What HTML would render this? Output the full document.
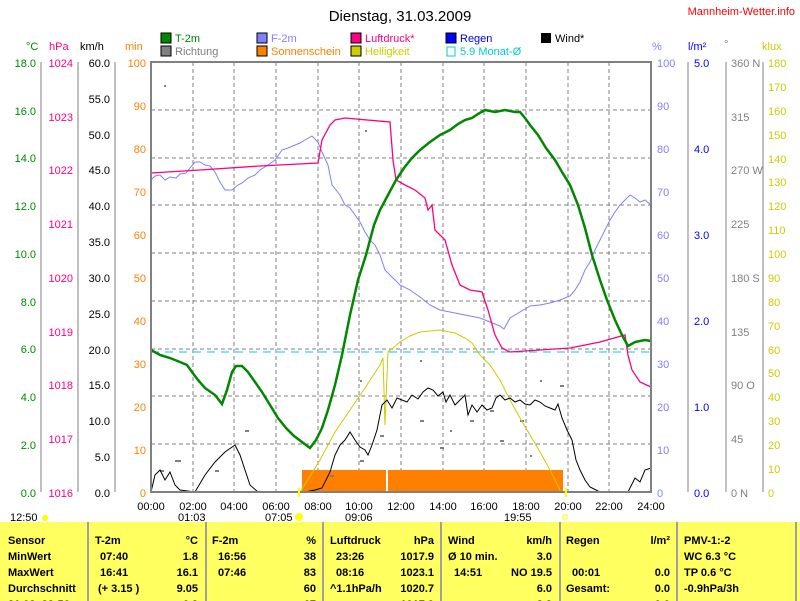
<!DOCTYPE html>
<html><head><meta charset="utf-8"><style>
body{margin:0;background:#fff;width:800px;height:601px;overflow:hidden;font-family:"Liberation Sans",sans-serif}
svg text{font-family:"Liberation Sans",sans-serif;font-size:11px}
.tb{position:absolute;left:0;top:522px;width:800px;height:79px;background:#ffff60;font:bold 12px "Liberation Sans",sans-serif}
</style></head><body>
<svg width="800" height="601" style="position:absolute;left:0;top:0">
<text x="400" y="21" text-anchor="middle" style="font-size:15px">Dienstag, 31.03.2009</text>
<text x="795" y="15" text-anchor="end" fill="#f00" style="font-size:11px">Mannheim-Wetter.info</text>
<g style="font-size:11px">
<rect x="161" y="33" width="10" height="10" fill="#080" stroke="#000"/><text x="175" y="42" fill="#080">T-2m</text>
<rect x="161" y="46" width="10" height="10" fill="#808080" stroke="#000"/><text x="175" y="55" fill="#808080">Richtung</text>
<rect x="257" y="33" width="10" height="10" fill="#8080ff" stroke="#000"/><text x="271" y="42" fill="#8080ff">F-2m</text>
<rect x="257" y="46" width="10" height="10" fill="#ff8000" stroke="#000"/><text x="271" y="55" fill="#ff8000">Sonnenschein</text>
<rect x="351" y="33" width="10" height="10" fill="#ff0080" stroke="#000"/><text x="365" y="42" fill="#ff0080">Luftdruck*</text>
<rect x="351" y="46" width="10" height="10" fill="#cc0" stroke="#000"/><text x="365" y="55" fill="#cc0">Helligkeit</text>
<rect x="446" y="33" width="10" height="10" fill="#00f" stroke="#000"/><text x="460" y="42" fill="#00f">Regen</text>
<rect x="447" y="47" width="8" height="9" fill="none" stroke="#0cc"/><text x="460" y="55" fill="#0cc">5.9 Monat-Ø</text>
<rect x="541" y="33" width="10" height="10" fill="#000"/><text x="555" y="42">Wind*</text>
</g>
<g style="font-size:11px">
<text x="26" y="50" fill="#080">°C</text><text x="49" y="50" fill="#ff0080">hPa</text><text x="80" y="50">km/h</text><text x="125" y="50" fill="#ff8000">min</text>
<text x="652" y="50" fill="#8080ff">%</text><text x="688" y="50" fill="#00f">l/m²</text><text x="724" y="48" fill="#808080">°</text><text x="762" y="50" fill="#cc0">klux</text>
</g>
<g stroke="#808080" stroke-dasharray="4,3" stroke-width="1">
<line x1="151" y1="110" x2="651" y2="110"/><line x1="151" y1="158" x2="651" y2="158"/><line x1="151" y1="205" x2="651" y2="205"/><line x1="151" y1="253" x2="651" y2="253"/><line x1="151" y1="301" x2="651" y2="301"/><line x1="151" y1="349" x2="651" y2="349"/><line x1="151" y1="396" x2="651" y2="396"/><line x1="151" y1="444" x2="651" y2="444"/>
<line x1="193" y1="62" x2="193" y2="492"/><line x1="234" y1="62" x2="234" y2="492"/><line x1="276" y1="62" x2="276" y2="492"/><line x1="318" y1="62" x2="318" y2="492"/><line x1="359" y1="62" x2="359" y2="492"/><line x1="401" y1="62" x2="401" y2="492"/><line x1="443" y1="62" x2="443" y2="492"/><line x1="484" y1="62" x2="484" y2="492"/><line x1="526" y1="62" x2="526" y2="492"/><line x1="568" y1="62" x2="568" y2="492"/><line x1="609" y1="62" x2="609" y2="492"/>
</g>
<line x1="151" y1="352" x2="651" y2="352" stroke="#0cc" stroke-dasharray="8,6"/>
<rect x="302" y="470" width="84" height="21" fill="#ff8000"/><rect x="388" y="470" width="175" height="21" fill="#ff8000"/>
<g fill="#808080">
<rect x="164" y="85" width="2" height="2"/><rect x="160" y="470" width="4" height="2"/><rect x="175" y="460" width="6" height="2"/><rect x="215" y="470" width="4" height="2"/><rect x="245" y="430" width="4" height="2"/><rect x="330" y="475" width="4" height="2"/><rect x="360" y="460" width="4" height="2"/><rect x="360" y="380" width="2" height="2"/><rect x="420" y="420" width="4" height="2"/><rect x="450" y="430" width="2" height="2"/><rect x="470" y="420" width="4" height="2"/><rect x="500" y="440" width="4" height="2"/><rect x="520" y="420" width="4" height="2"/><rect x="540" y="380" width="2" height="2"/><rect x="560" y="385" width="4" height="2"/><rect x="365" y="130" width="2" height="2"/><rect x="420" y="360" width="2" height="2"/><rect x="490" y="410" width="4" height="2"/><rect x="440" y="447" width="4" height="2"/><rect x="380" y="435" width="4" height="2"/><rect x="530" y="455" width="2" height="2"/></g>
<polyline fill="none" stroke="#cc0" points="300,492 320,460 335,432 350,410 365,388 380,365 383,358 385,425 388,352 400,342 410,336 420,332 440,330 455,333 465,338 472,343 480,355 490,365 500,380 510,400 520,418 530,435 540,452 550,470 560,490"/>
<polyline fill="none" stroke="#000" points="151,492 155,475 160,470 165,480 170,472 175,485 180,490 195,492 205,475 215,462 225,452 235,445 240,455 245,470 250,485 258,492 305,492 315,490 322,488 330,472 335,455 340,445 345,440 350,432 355,440 360,447 365,450 368,455 372,445 377,430 382,405 387,400 392,408 397,398 402,400 407,402 412,395 418,399 423,392 428,388 433,390 438,396 443,392 446,402 450,395 455,405 460,400 465,395 468,415 472,405 477,412 482,405 487,410 492,408 496,398 500,395 505,400 510,398 515,402 520,400 525,404 530,405 535,400 540,402 545,406 550,408 555,410 558,404 562,418 567,430 572,440 576,460 580,470 585,480 590,487 600,492 628,492 635,478 640,482 645,470 651,468"/>
<polyline fill="none" stroke="#8080ff" points="151,180 155,176 160,175 165,180 170,177 176,178 180,174 186,173 190,168 195,162 200,162 205,165 210,166 215,172 220,182 225,190 232,190 238,185 242,183 248,178 255,175 260,170 268,165 275,160 282,150 288,148 295,145 300,143 305,140 312,136 318,142 322,152 328,165 332,185 340,195 345,205 350,208 355,215 360,222 365,232 370,240 375,245 380,255 385,270 390,275 395,280 400,285 410,290 420,297 430,305 440,310 450,312 460,314 470,316 480,318 490,322 500,326 504,329 510,318 520,312 530,306 540,305 550,303 560,300 570,296 575,290 580,282 585,270 590,262 595,250 600,240 605,230 610,220 615,212 620,205 625,200 630,195 635,198 640,202 645,200 651,205"/>
<polyline fill="none" stroke="#ff0080" stroke-width="1.3" points="151,173 200,170 260,166 318,163 322,140 330,125 335,120 345,118 390,122 393,160 396,180 405,185 415,190 425,198 428,210 432,205 435,230 445,240 452,265 460,285 470,290 482,292 488,310 495,335 502,348 510,352 540,350 570,348 600,342 625,335 628,355 632,370 640,382 651,387"/>
<polyline fill="none" stroke="#080" stroke-width="2.5" points="151,350 160,355 170,358 180,362 187,365 192,372 198,380 205,388 215,395 222,404 227,390 232,372 236,366 242,366 248,372 255,382 262,392 270,405 278,418 286,428 294,436 302,442 310,448 316,440 322,428 328,410 335,385 342,355 350,315 358,280 366,255 374,225 380,210 388,195 396,180 404,168 412,158 420,150 430,142 440,135 450,130 458,124 465,120 472,118 478,114 485,110 495,112 505,110 515,112 520,112 525,118 530,125 538,135 546,148 555,160 562,172 570,185 578,205 585,228 592,255 600,280 607,300 615,320 622,335 628,346 635,342 645,340 651,341"/>
<rect x="151" y="62" width="500" height="430" fill="none" stroke="#808080" stroke-width="2"/>
<g stroke="#808080">
<line x1="41" y1="62" x2="41" y2="492"/><line x1="78" y1="62" x2="78" y2="492"/><line x1="115" y1="62" x2="115" y2="492"/>
<line x1="688" y1="62" x2="688" y2="492"/><line x1="726" y1="62" x2="726" y2="492"/><line x1="763" y1="62" x2="763" y2="492"/>
</g>
<g fill="#080" text-anchor="end"><text x="36" y="67">18.0</text><text x="36" y="115">16.0</text><text x="36" y="162">14.0</text><text x="36" y="210">12.0</text><text x="36" y="258">10.0</text><text x="36" y="306">8.0</text><text x="36" y="353">6.0</text><text x="36" y="401">4.0</text><text x="36" y="449">2.0</text><text x="36" y="497">0.0</text></g>
<g fill="#ff0080" text-anchor="end"><text x="73" y="67">1024</text><text x="73" y="121">1023</text><text x="73" y="174">1022</text><text x="73" y="228">1021</text><text x="73" y="282">1020</text><text x="73" y="336">1019</text><text x="73" y="389">1018</text><text x="73" y="443">1017</text><text x="73" y="497">1016</text></g>
<g text-anchor="end"><text x="110" y="67">60.0</text><text x="110" y="103">55.0</text><text x="110" y="139">50.0</text><text x="110" y="174">45.0</text><text x="110" y="210">40.0</text><text x="110" y="246">35.0</text><text x="110" y="282">30.0</text><text x="110" y="318">25.0</text><text x="110" y="354">20.0</text><text x="110" y="389">15.0</text><text x="110" y="425">10.0</text><text x="110" y="461">5.0</text><text x="110" y="497">0.0</text></g>
<g fill="#ff8000" text-anchor="end"><text x="146" y="67">100</text><text x="146" y="110">90</text><text x="146" y="153">80</text><text x="146" y="196">70</text><text x="146" y="239">60</text><text x="146" y="282">50</text><text x="146" y="325">40</text><text x="146" y="368">30</text><text x="146" y="411">20</text><text x="146" y="454">10</text><text x="146" y="497">0</text></g>
<g fill="#8080ff"><text x="657" y="67">100</text><text x="657" y="110">90</text><text x="657" y="153">80</text><text x="657" y="196">70</text><text x="657" y="239">60</text><text x="657" y="282">50</text><text x="657" y="325">40</text><text x="657" y="368">30</text><text x="657" y="411">20</text><text x="657" y="454">10</text><text x="657" y="497">0</text></g>
<g fill="#00f"><text x="694" y="67">5.0</text><text x="694" y="153">4.0</text><text x="694" y="239">3.0</text><text x="694" y="325">2.0</text><text x="694" y="411">1.0</text><text x="694" y="497">0.0</text></g>
<g fill="#808080"><text x="731" y="67">360 N</text><text x="731" y="121">315</text><text x="731" y="174">270 W</text><text x="731" y="228">225</text><text x="731" y="282">180 S</text><text x="731" y="336">135</text><text x="731" y="389">90 O</text><text x="731" y="443">45</text><text x="731" y="497">0   N</text></g>
<g fill="#cc0"><text x="768" y="67">180</text><text x="768" y="91">170</text><text x="768" y="115">160</text><text x="768" y="139">150</text><text x="768" y="163">140</text><text x="768" y="186">130</text><text x="768" y="210">120</text><text x="768" y="234">110</text><text x="768" y="258">100</text><text x="768" y="282">90</text><text x="768" y="306">80</text><text x="768" y="330">70</text><text x="768" y="354">60</text><text x="768" y="377">50</text><text x="768" y="401">40</text><text x="768" y="425">30</text><text x="768" y="449">20</text><text x="768" y="473">10</text><text x="768" y="497">0</text></g>
<g text-anchor="middle"><text x="151" y="510">00:00</text><text x="193" y="510">02:00</text><text x="234" y="510">04:00</text><text x="276" y="510">06:00</text><text x="318" y="510">08:00</text><text x="359" y="510">10:00</text><text x="401" y="510">12:00</text><text x="443" y="510">14:00</text><text x="484" y="510">16:00</text><text x="526" y="510">18:00</text><text x="568" y="510">20:00</text><text x="609" y="510">22:00</text><text x="651" y="510">24:00</text></g>
<g><text x="10" y="521">12:50</text><text x="178" y="521">01:03</text><text x="265" y="521">07:05</text><text x="345" y="521">09:06</text><text x="504" y="521">19:55</text></g>
<circle cx="45" cy="518" r="3" fill="#ff0"/><circle cx="299" cy="517" r="4" fill="#ff0"/><rect x="563" y="515" width="4" height="4" fill="none" stroke="#ff0"/>
<line x1="299" y1="488" x2="299" y2="497" stroke="#ff0" stroke-width="2"/><line x1="566" y1="488" x2="566" y2="497" stroke="#ff0" stroke-width="2"/>
</svg>
<div class="tb">
<svg width="800" height="79" style="position:absolute;left:0;top:0">
<g stroke="#a0a0a0" stroke-width="2"><line x1="88" y1="0" x2="88" y2="79"/><line x1="206" y1="0" x2="206" y2="79"/><line x1="323" y1="0" x2="323" y2="79"/><line x1="441" y1="0" x2="441" y2="79"/><line x1="560" y1="0" x2="560" y2="79"/><line x1="677" y1="0" x2="677" y2="79"/><line x1="796" y1="0" x2="796" y2="79"/></g>
<g style="font-weight:bold;font-size:12px"><text x="8" y="22">Sensor</text><text x="8" y="38">MinWert</text><text x="8" y="54">MaxWert</text><text x="8" y="70">Durchschnitt</text><text x="8" y="86">31.03. 22:56</text>
<text x="95" y="22">T-2m</text><text x="198" y="22" text-anchor="end">°C</text>
<text x="212" y="22">F-2m</text><text x="316" y="22" text-anchor="end">%</text>
<text x="330" y="22">Luftdruck</text><text x="434" y="22" text-anchor="end">hPa</text>
<text x="448" y="22">Wind</text><text x="552" y="22" text-anchor="end">km/h</text>
<text x="566" y="22">Regen</text><text x="670" y="22" text-anchor="end">l/m²</text>
<text x="684" y="22">PMV-1:-2</text>
<text x="198" y="86" text-anchor="end">6.3</text><text x="316" y="86" text-anchor="end">67</text><text x="434" y="86" text-anchor="end">1017.9</text><text x="552" y="86" text-anchor="end">3.3</text><text x="670" y="86" text-anchor="end">0.0</text></g>
<g style="font-size:12px"><text x="100" y="38">07:40</text><text x="198" y="38" text-anchor="end">1.8</text><text x="100" y="54">16:41</text><text x="198" y="54" text-anchor="end">16.1</text><text x="98" y="70">(+ 3.15 )</text><text x="198" y="70" text-anchor="end">9.05</text>
<text x="218" y="38">16:56</text><text x="316" y="38" text-anchor="end">38</text><text x="218" y="54">07:46</text><text x="316" y="54" text-anchor="end">83</text><text x="316" y="70" text-anchor="end">60</text>
<text x="336" y="38">23:26</text><text x="434" y="38" text-anchor="end">1017.9</text><text x="336" y="54">08:16</text><text x="434" y="54" text-anchor="end">1023.1</text><text x="330" y="70">^1.1hPa/h</text><text x="434" y="70" text-anchor="end">1020.7</text>
<text x="448" y="38">Ø 10 min.</text><text x="552" y="38" text-anchor="end">3.0</text><text x="454" y="54">14:51</text><text x="552" y="54" text-anchor="end">NO 19.5</text><text x="552" y="70" text-anchor="end">6.0</text>
<text x="572" y="54">00:01</text><text x="670" y="54" text-anchor="end">0.0</text><text x="566" y="70">Gesamt:</text><text x="670" y="70" text-anchor="end">0.0</text>
<text x="684" y="38">WC 6.3 °C</text><text x="684" y="54">TP 0.6 °C</text><text x="684" y="70">-0.9hPa/3h</text></g>
</svg></div>
</body></html>
